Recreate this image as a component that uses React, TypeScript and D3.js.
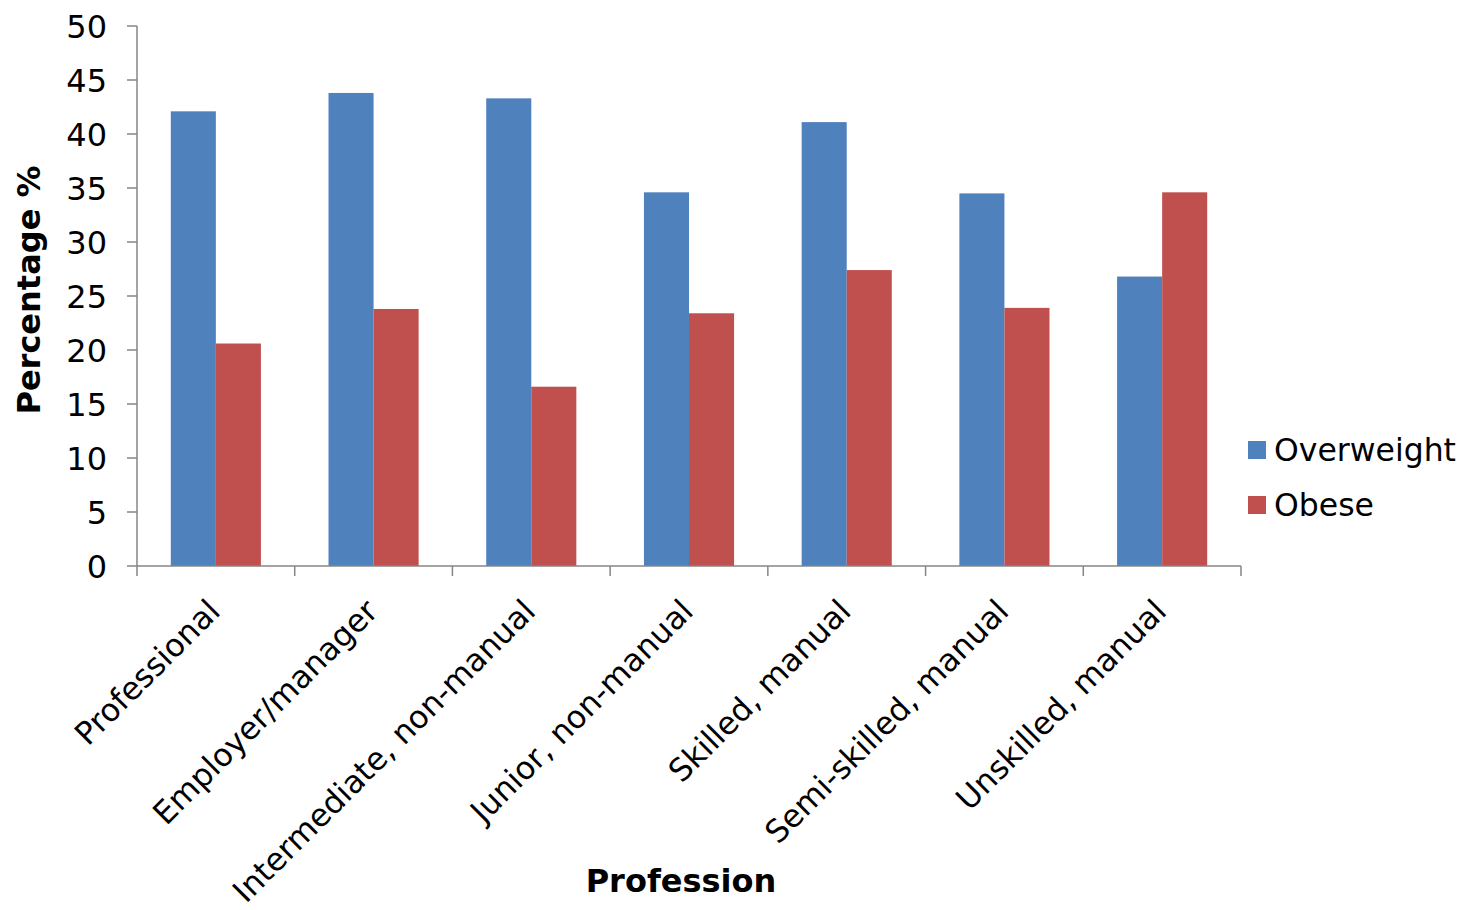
import React from "react";
import * as d3 from "d3";

const categories = [
  "Professional",
  "Employer/manager",
  "Intermediate, non-manual",
  "Junior, non-manual",
  "Skilled, manual",
  "Semi-skilled, manual",
  "Unskilled, manual",
];
const seriesNames = ["Overweight", "Obese"];
const overweight = [42.1, 43.8, 43.3, 34.6, 41.1, 34.5, 26.8];
const obese = [20.6, 23.8, 16.6, 23.4, 27.4, 23.9, 34.6];
const yTicks = [0, 5, 10, 15, 20, 25, 30, 35, 40, 45, 50];
const colors = ["#4F81BD", "#C0504D"];

const W = 1462;
const H = 910;
const left = 137;
const right = 1241;
const top = 26;
const bottom = 566;
const FONT = "'DejaVu Sans', Verdana, sans-serif";

export default function App() {
  const x0 = d3.scaleBand<string>().domain(categories).range([left, right]).padding(0);
  const x1 = d3
    .scaleBand<string>()
    .domain(seriesNames)
    .range([0, x0.bandwidth()])
    .paddingInner(0)
    .paddingOuter(0.75);
  const y = d3.scaleLinear().domain([0, 50]).range([bottom, top]);
  const data = [overweight, obese];
  const gray = "#868686";

  return (
    <svg
      width={W}
      height={H}
      style={{ position: "absolute", left: 0, top: 0, background: "#fff" }}
      fontFamily={FONT}
    >
      {/* bars */}
      {categories.map((c, i) => (
        <g key={c}>
          {seriesNames.map((s, j) => {
            const v = data[j][i];
            return (
              <rect
                key={s}
                x={(x0(c) as number) + (x1(s) as number)}
                y={y(v)}
                width={x1.bandwidth()}
                height={bottom - y(v)}
                fill={colors[j]}
              />
            );
          })}
        </g>
      ))}

      {/* y axis */}
      <line x1={left} x2={left} y1={top} y2={bottom} stroke={gray} strokeWidth={1.5} />
      {yTicks.map((t) => (
        <g key={t}>
          <line x1={left - 10} x2={left} y1={y(t)} y2={y(t)} stroke={gray} strokeWidth={1.5} />
          <text x={left - 30} y={y(t)} dy="0.36em" textAnchor="end" fontSize={32} fill="#000">
            {t}
          </text>
        </g>
      ))}

      {/* x axis */}
      <line x1={left} x2={right} y1={bottom} y2={bottom} stroke={gray} strokeWidth={1.5} />
      {[...categories.map((c) => x0(c) as number), right].map((xv, i) => (
        <line key={i} x1={xv} x2={xv} y1={bottom} y2={bottom + 10} stroke={gray} strokeWidth={1.5} />
      ))}
      {categories.map((c) => {
        const cx = (x0(c) as number) + x0.bandwidth() / 2 - 2;
        const ty = bottom + 39;
        return (
          <text
            key={c}
            x={cx}
            y={ty}
            dy="0.36em"
            textAnchor="end"
            fontSize={31.5}
            transform={`rotate(-45, ${cx}, ${ty})`}
            fill="#000"
          >
            {c}
          </text>
        );
      })}

      {/* axis titles */}
      <text
        x={28}
        y={290}
        dy="0.36em"
        textAnchor="middle"
        fontSize={32}
        fontWeight="bold"
        transform="rotate(-90, 28, 290)"
      >
        Percentage %
      </text>
      <text x={681} y={880} dy="0.36em" textAnchor="middle" fontSize={32} fontWeight="bold">
        Profession
      </text>

      {/* legend */}
      {seriesNames.map((s, j) => (
        <g key={s} transform={`translate(1248, ${441 + j * 55})`}>
          <rect x={0} y={0} width={18} height={18} fill={colors[j]} />
          <text x={26} y={9} dy="0.36em" fontSize={31.5} fill="#000">
            {s}
          </text>
        </g>
      ))}
    </svg>
  );
}
